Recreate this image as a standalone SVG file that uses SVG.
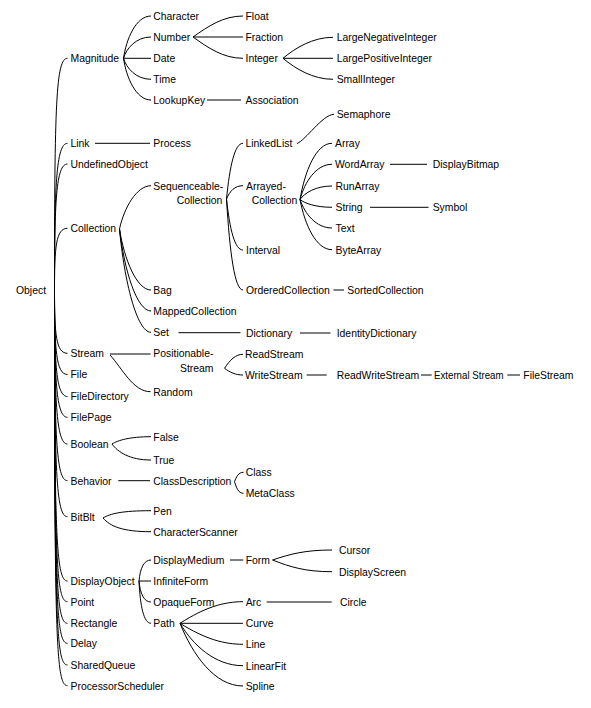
<svg xmlns="http://www.w3.org/2000/svg" width="591" height="708" viewBox="0 0 591 708">
<style>
text{font-family:"Liberation Sans",Arial,Helvetica,sans-serif;font-size:10.4px;fill:#000}
#connectors path{fill:none;stroke:#000;stroke-width:1}
</style>
<rect width="591" height="708" fill="#fff"/>
<g id="connectors">
<!-- Object trunk -->
<path d="M54.5,290 C54.5,103.3 56,58.3 67.5,58.3"/>
<path d="M54.5,290 C54.5,187.3 56,143.3 67.5,143.3"/>
<path d="M54.5,290 C54.5,201.8 56,164 67.5,164"/>
<path d="M54.5,290 C54.5,246.8 56,228.3 67.5,228.3"/>
<path d="M54.5,290 C54.5,334.3 56,353.3 67.5,353.3"/>
<path d="M54.5,290 C54.5,349.1 56,374.5 67.5,374.5"/>
<path d="M54.5,290 C54.5,364.5 56,396.5 67.5,396.5"/>
<path d="M54.5,290 C54.5,379.1 56,417.3 67.5,417.3"/>
<path d="M54.5,290 C54.5,399 56,444 67.5,444"/>
<path d="M54.5,290 C54.5,435.7 56,480.7 67.5,480.7"/>
<path d="M54.5,290 C54.5,471.7 56,516.7 67.5,516.7"/>
<path d="M54.5,290 C54.5,536 56,581 67.5,581"/>
<path d="M54.5,290 C54.5,556.7 56,601.7 67.5,601.7"/>
<path d="M54.5,290 C54.5,578.3 56,623.3 67.5,623.3"/>
<path d="M54.5,290 C54.5,598.3 56,643.3 67.5,643.3"/>
<path d="M54.5,290 C54.5,620 56,665 67.5,665"/>
<path d="M54.5,290 C54.5,640.7 56,685.7 67.5,685.7"/>
<!-- Magnitude fan -->
<path d="M123.5,58.3 C126.25,39.3 135.9,16 151,16"/>
<path d="M123.5,58.3 C126.25,48.7 135.9,37 151,37"/>
<path d="M123.5,58.3 L151,58.3"/>
<path d="M123.5,58.3 C126.25,67.75 135.9,79.3 151,79.3"/>
<path d="M123.5,58.3 C126.25,77.1 135.9,100 151,100"/>
<!-- Number fan -->
<path d="M193,37 C208,26.5 223,16 243,16"/>
<path d="M193,37 L243,37"/>
<path d="M193,37 C208,47.65 223,58.3 243,58.3"/>
<!-- Integer fan -->
<path d="M283,58.3 C295.5,47.8 313,37.3 333,37.3"/>
<path d="M283,58.3 L333,58.3"/>
<path d="M283,58.3 C295.5,68.8 313,79.3 333,79.3"/>
<path d="M207,100 L241,100"/>
<path d="M95,143.3 L150,143.3"/>
<!-- Collection fan -->
<path d="M119.5,229 C124.2,207.35 136.8,185.7 151,185.7"/>
<path d="M119.5,229 C124.2,259.5 136.8,290 151,290"/>
<path d="M119.5,229 C124.2,270 136.8,311 151,311"/>
<path d="M119.5,229 C124.2,280.65 136.8,332.3 151,332.3"/>
<!-- SequenceableCollection fan -->
<path d="M226.5,199 C229.8,165.6 234.75,143.3 243,143.3"/>
<path d="M226.5,199 C229.8,191 234.75,185.7 243,185.7"/>
<path d="M226.5,199 C229.8,229.6 234.75,250 243,250"/>
<path d="M226.5,199 C229.8,253.6 234.75,290 243,290"/>
<!-- LinkedList - Semaphore -->
<path d="M297,143.5 C306,140 322,115 334,114.3"/>
<!-- ArrayedCollection fan -->
<path d="M300,199.5 C304.8,171.4 316,143.3 332,143.3"/>
<path d="M300,199.5 C304.8,181.9 316,164.3 332,164.3"/>
<path d="M300,199.5 C304.8,192.75 316,186 332,186"/>
<path d="M300,199.5 C304.8,203.4 316,207.3 332,207.3"/>
<path d="M300,199.5 C304.8,213.75 316,228 332,228"/>
<path d="M300,199.5 C304.8,224.6 316,249.7 332,249.7"/>
<path d="M390,164.3 L427,164.3"/>
<path d="M370,207.3 L428.5,207.3"/>
<path d="M333.5,290 L344,290"/>
<path d="M178.5,332.7 L240.5,332.7"/>
<path d="M300,333 L330.5,333"/>
<!-- Stream -->
<path d="M110,354 L150.5,354"/>
<path d="M110,355 C122,368 133,391.7 150.5,391.7"/>
<path d="M224.5,368.3 C230,359.9 235.6,354.3 243,354.3"/>
<path d="M224.5,368.3 C230,372.3 235.6,375 243,375"/>
<path d="M306.7,375 L326.7,375"/>
<path d="M421,375 L431.7,375"/>
<path d="M507.3,375 L520,375"/>
<!-- Boolean -->
<path d="M112,444 C117.85,440.35 129.55,436.7 151,436.7"/>
<path d="M112,444 C117.85,452 129.55,460 151,460"/>
<!-- Behavior -->
<path d="M118.3,480.7 L150,480.7"/>
<path d="M234.5,481.7 C236.4,477 238.2,472.3 243.5,472.3"/>
<path d="M234.5,481.7 C236.4,487.5 238.2,493.3 243.5,493.3"/>
<!-- BitBlt -->
<path d="M103,518 C110.2,513.6 122.2,510.7 151,510.7"/>
<path d="M103,518 C110.2,526.2 122.2,531.7 151,531.7"/>
<!-- DisplayObject -->
<path d="M139,581 C140.2,568.4 143.8,560 151,560"/>
<path d="M139,581 L151,581"/>
<path d="M139,581 C140.2,593.6 143.8,602 151,602"/>
<path d="M139,581 C140.2,606.4 143.8,623.3 151,623.3"/>
<path d="M230,560 L243.3,560"/>
<path d="M272.5,560 C290.35,554 305.2,550 332,550"/>
<path d="M272.5,560 C290.35,567 305.2,571.7 332,571.7"/>
<path d="M266.7,602 L331.7,602"/>
<!-- Path fan -->
<path d="M180,623.3 C205.2,607.1 224.1,601.7 243,601.7"/>
<path d="M180,623.3 L243,623.3"/>
<path d="M180,623.3 C205.2,639.05 224.1,644.3 243,644.3"/>
<path d="M180,623.3 C192.6,644.5 214.65,665.7 243,665.7"/>
<path d="M180,623.3 C192.6,654.65 214.65,686 243,686"/>
</g>
<g id="n-object"><text x="16" y="293.8">Object</text></g>
<g id="n-magnitude"><text x="70.5" y="62.1">Magnitude</text></g>
<g id="n-character"><text x="153.3" y="19.8">Character</text></g>
<g id="n-number"><text x="153.3" y="40.8">Number</text></g>
<g id="n-date"><text x="153.3" y="62.1">Date</text></g>
<g id="n-time"><text x="153.3" y="83.1">Time</text></g>
<g id="n-lookupkey"><text x="153.3" y="103.8">LookupKey</text></g>
<g id="n-float"><text x="245.5" y="19.8">Float</text></g>
<g id="n-fraction"><text x="245.5" y="40.8">Fraction</text></g>
<g id="n-integer"><text x="245.5" y="62.1">Integer</text></g>
<g id="n-largenegativeinteger"><text x="336.7" y="41.1">LargeNegativeInteger</text></g>
<g id="n-largepositiveinteger"><text x="336.7" y="62.1">LargePositiveInteger</text></g>
<g id="n-smallinteger"><text x="336.7" y="83.1">SmallInteger</text></g>
<g id="n-association"><text x="245.5" y="103.8">Association</text></g>
<g id="n-link"><text x="70.5" y="147.1">Link</text></g>
<g id="n-process"><text x="153.3" y="147.1">Process</text></g>
<g id="n-undefinedobject"><text x="70.5" y="167.8">UndefinedObject</text></g>
<g id="n-linkedlist"><text x="245.5" y="147.1">LinkedList</text></g>
<g id="n-semaphore"><text x="336.7" y="118.1">Semaphore</text></g>
<g id="n-array"><text x="335" y="147.1">Array</text></g>
<g id="n-wordarray"><text x="335" y="168.1">WordArray</text></g>
<g id="n-displaybitmap"><text x="432.7" y="168.1">DisplayBitmap</text></g>
<g id="n-collection"><text x="70.5" y="232.1">Collection</text></g>
<g id="n-sequenceablecollection"><text x="153.3" y="189.5">Sequenceable-</text><text x="176.7" y="203.8">Collection</text></g>
<g id="n-arrayedcollection"><text x="246" y="189.5">Arrayed-</text><text x="251.7" y="203.8">Collection</text></g>
<g id="n-runarray"><text x="335.5" y="189.8">RunArray</text></g>
<g id="n-string"><text x="335.5" y="211.1">String</text></g>
<g id="n-symbol"><text x="432.7" y="211.1">Symbol</text></g>
<g id="n-text"><text x="335.5" y="231.8">Text</text></g>
<g id="n-bytearray"><text x="335.5" y="253.5">ByteArray</text></g>
<g id="n-interval"><text x="246" y="253.8">Interval</text></g>
<g id="n-bag"><text x="153.3" y="293.8">Bag</text></g>
<g id="n-orderedcollection"><text x="246" y="293.8">OrderedCollection</text></g>
<g id="n-sortedcollection"><text x="347.3" y="293.8">SortedCollection</text></g>
<g id="n-mappedcollection"><text x="153.3" y="314.8">MappedCollection</text></g>
<g id="n-set"><text x="153.3" y="336.1">Set</text></g>
<g id="n-dictionary"><text x="246" y="336.5">Dictionary</text></g>
<g id="n-identitydictionary"><text x="336.7" y="337.1">IdentityDictionary</text></g>
<g id="n-stream"><text x="70.5" y="357.1">Stream</text></g>
<g id="n-positionablestream"><text x="153.3" y="357.1">Positionable-</text><text x="180" y="372.1">Stream</text></g>
<g id="n-readstream"><text x="245" y="358.1">ReadStream</text></g>
<g id="n-writestream"><text x="245" y="378.8">WriteStream</text></g>
<g id="n-readwritestream"><text x="336.7" y="378.8">ReadWriteStream</text></g>
<g id="n-externalstream"><text x="434" y="378.8" textLength="69.5" lengthAdjust="spacingAndGlyphs">External Stream</text></g>
<g id="n-filestream"><text x="523.3" y="378.8">FileStream</text></g>
<g id="n-file"><text x="70.5" y="378.3">File</text></g>
<g id="n-random"><text x="153.3" y="395.5">Random</text></g>
<g id="n-filedirectory"><text x="70.5" y="400.3">FileDirectory</text></g>
<g id="n-filepage"><text x="70.5" y="421.1">FilePage</text></g>
<g id="n-boolean"><text x="70.5" y="447.8">Boolean</text></g>
<g id="n-false"><text x="153.3" y="440.5">False</text></g>
<g id="n-true"><text x="153.3" y="463.8">True</text></g>
<g id="n-behavior"><text x="70.5" y="484.5">Behavior</text></g>
<g id="n-classdescription"><text x="153.3" y="484.5">ClassDescription</text></g>
<g id="n-class"><text x="245.7" y="476.1">Class</text></g>
<g id="n-metaclass"><text x="245.7" y="497.1">MetaClass</text></g>
<g id="n-bitblt"><text x="70.5" y="520.5">BitBlt</text></g>
<g id="n-pen"><text x="153.3" y="514.5">Pen</text></g>
<g id="n-characterscanner"><text x="153.3" y="535.5">CharacterScanner</text></g>
<g id="n-displayobject"><text x="70.5" y="584.8">DisplayObject</text></g>
<g id="n-displaymedium"><text x="153.3" y="563.8">DisplayMedium</text></g>
<g id="n-form"><text x="245.7" y="563.8">Form</text></g>
<g id="n-cursor"><text x="339" y="553.8">Cursor</text></g>
<g id="n-displayscreen"><text x="339" y="575.5">DisplayScreen</text></g>
<g id="n-infiniteform"><text x="153.3" y="584.8">InfiniteForm</text></g>
<g id="n-opaqueform"><text x="153.3" y="605.8">OpaqueForm</text></g>
<g id="n-point"><text x="70.5" y="605.5">Point</text></g>
<g id="n-arc"><text x="245.7" y="605.5">Arc</text></g>
<g id="n-circle"><text x="340" y="606.1">Circle</text></g>
<g id="n-rectangle"><text x="70.5" y="627.1">Rectangle</text></g>
<g id="n-path"><text x="153.3" y="627.1">Path</text></g>
<g id="n-curve"><text x="245.7" y="627.1">Curve</text></g>
<g id="n-delay"><text x="70.5" y="647.1">Delay</text></g>
<g id="n-line"><text x="245.7" y="648.1">Line</text></g>
<g id="n-sharedqueue"><text x="70.5" y="668.8">SharedQueue</text></g>
<g id="n-linearfit"><text x="245.7" y="669.5">LinearFit</text></g>
<g id="n-processorscheduler"><text x="70.5" y="689.5">ProcessorScheduler</text></g>
<g id="n-spline"><text x="245.7" y="689.8">Spline</text></g>
</svg>
